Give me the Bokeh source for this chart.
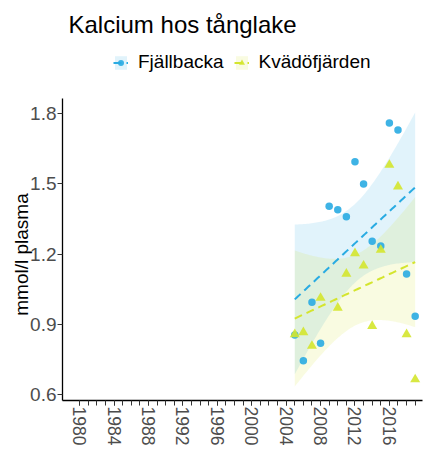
import math
import numpy as np
from bokeh.plotting import figure
from bokeh.models import Range1d, FixedTicker, Legend, LegendItem, Label
from bokeh.embed import file_html
from bokeh.resources import INLINE

# ---- data ----
title_text = "Kalcium hos tånglake"
y_label = "mmol/l plasma"
series_names = ["Fjällbacka", "Kvädöfjärden"]

years_fj = [2005, 2006, 2007, 2008, 2009, 2010, 2011, 2012, 2013, 2014, 2015, 2016, 2017, 2018, 2019]
ca_fj = [0.855, 0.745, 0.995, 0.82, 1.405, 1.39, 1.36, 1.595, 1.50, 1.255, 1.235, 1.76, 1.73, 1.115, 0.935]

years_kv = [2005, 2006, 2007, 2008, 2010, 2011, 2012, 2013, 2014, 2015, 2016, 2017, 2018, 2019]
ca_kv = [0.858, 0.866, 0.808, 1.013, 0.971, 1.116, 1.204, 1.151, 0.893, 1.218, 1.581, 1.489, 0.858, 0.665]

x_ticks = [1980, 1984, 1988, 1992, 1996, 2000, 2004, 2008, 2012, 2016]
x_minor = list(range(1980, 2020))
y_ticks = [0.6, 0.9, 1.2, 1.5, 1.8]
x_axis_extent = (1978.0, 2019.85)
y_axis_extent = (0.575, 1.865)

# Student t 97.5% quantiles for df = n - 2
t975 = {12: 2.178813, 13: 2.160369}

BLUE = "#29ABE2"
YEL = "#D4E52E"
FONT = "Liberation Sans"


def lm_band(x, y):
    x = np.asarray(x, float)
    y = np.asarray(y, float)
    n = len(x)
    xm = x.mean()
    sxx = ((x - xm) ** 2).sum()
    b = ((x - xm) * (y - y.mean())).sum() / sxx
    a = y.mean() - b * xm
    res = y - (a + b * x)
    s = np.sqrt((res ** 2).sum() / (n - 2))
    xs = np.linspace(x.min(), x.max(), 80)
    fit = a + b * xs
    se = s * np.sqrt(1.0 / n + (xs - xm) ** 2 / sxx)
    t = t975[n - 2]
    return xs, fit, fit - t * se, fit + t * se


# ---- layout: the frame fills the whole canvas; the data panel sits inside it ----
W, H = 423, 447
PL, PR, PT, PB = 62, 422, 98, 400          # data panel edges in canvas pixels
kx = (PR - PL) / (x_axis_extent[1] - x_axis_extent[0])
ky = (PB - PT) / (y_axis_extent[1] - y_axis_extent[0])
x_rng = Range1d(x_axis_extent[0] - PL / kx, x_axis_extent[1] + (W - PR) / kx)
y_rng = Range1d(y_axis_extent[0] - (H - PB) / ky, y_axis_extent[1] + PT / ky)

p = figure(width=W, height=H, output_backend="svg", toolbar_location=None,
           x_range=x_rng, y_range=y_rng,
           min_border_left=0, min_border_right=0, min_border_top=0, min_border_bottom=0)
p.min_border = 0
p.outline_line_color = None
p.xgrid.visible = False
p.ygrid.visible = False
p.background_fill_color = "white"
p.border_fill_color = "white"

series = [(years_fj, ca_fj, BLUE, "circle", 7.5), (years_kv, ca_kv, YEL, "triangle", 10)]
bands, fits, pts = [], [], []
for xs_, ys_, col, mk, sz in series:
    xs, fit, lo, hi = lm_band(xs_, ys_)
    bands.append(p.varea(x=xs, y1=lo, y2=hi, fill_color=col, fill_alpha=0.14))
    fits.append((xs, fit, col))
line_r = [p.line(x=xs, y=fit, line_color=col, line_width=2, line_dash="8 5") for xs, fit, col in fits]
for xs_, ys_, col, mk, sz in series:
    pts.append(p.scatter(x=xs_, y=ys_, marker=mk, size=sz, fill_color=col, line_color=None, fill_alpha=0.9))

# axes, drawn inside the frame at fixed data positions
for ax in (p.xaxis[0], p.yaxis[0]):
    ax.axis_line_color = "black"
    ax.axis_line_width = 1.3
    ax.major_tick_line_color = "#333333"
    ax.minor_tick_line_color = "#333333"
    ax.major_tick_in = 0
    ax.major_tick_out = 5
    ax.minor_tick_in = 0
    ax.minor_tick_out = 5
    ax.major_label_text_color = "#4D4D4D"
    ax.major_label_text_font = FONT

p.xaxis.ticker = FixedTicker(ticks=x_ticks, minor_ticks=x_minor)
p.xaxis.fixed_location = y_axis_extent[0]
p.xaxis.bounds = x_axis_extent
p.xaxis.major_label_orientation = "vertical"
p.xaxis.major_label_standoff = 1
p.xaxis.major_label_text_font_size = "17.5px"
p.yaxis.ticker = FixedTicker(ticks=y_ticks, minor_ticks=[])
p.yaxis.fixed_location = x_axis_extent[0]
p.yaxis.bounds = y_axis_extent
p.yaxis.major_label_standoff = 1
p.yaxis.major_label_text_font_size = "19px"

p.add_layout(Label(x=21, y=193, x_units="screen", y_units="screen", text=y_label,
                   angle=math.pi / 2, text_align="center", text_baseline="middle",
                   text_font=FONT, text_font_size="19px", text_color="black"))

legend = Legend(items=[LegendItem(label=series_names[i], renderers=[bands[i], line_r[i], pts[i]])
                       for i in range(2)],
                orientation="horizontal", location=(PL + 51, H - 73), padding=0, margin=0,
                spacing=10, label_standoff=10, glyph_width=15, glyph_height=17,
                label_height=17, border_line_color=None, background_fill_alpha=0,
                label_text_font=FONT, label_text_font_size="19px", label_text_color="black")
p.add_layout(legend)

p.add_layout(Label(x=PL + 6, y=H - 24, x_units="screen", y_units="screen", text=title_text,
                   text_font=FONT, text_font_size="24px", text_baseline="alphabetic",
                   text_color="black"))

open("out.html", "w").write(file_html(p, INLINE))
